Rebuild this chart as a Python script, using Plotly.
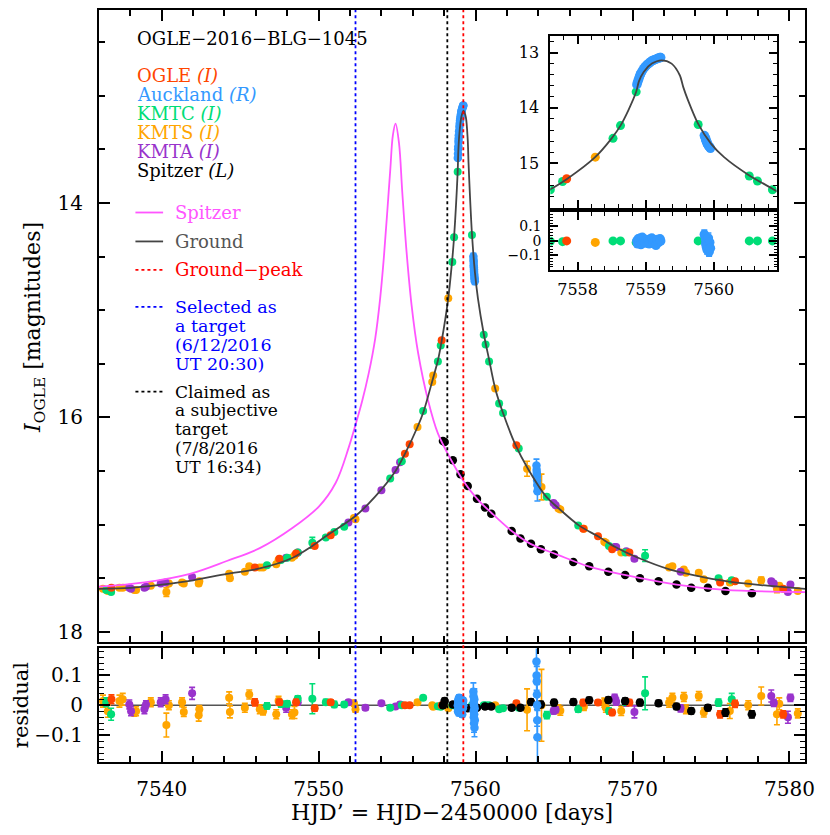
import plotly.graph_objects as go

# page is drawn with an 8px body margin, so the figure is 8px smaller and
# reference pixel positions are shifted by 8px.
OFF = 8
W, H = 830 - OFF, 835 - OFF
def fx(p): return min(1.0, max(0.0, (p - OFF) / W))
def fy(p): return min(1.0, max(0.0, 1 - (p - OFF) / H))

FONT = "DejaVu Serif"

# ---------------- model curves ----------------
ground_t = [7536, 7538, 7540, 7542, 7544.15, 7546.25, 7548.35, 7549.6, 7550.45, 7552.35,
            7553.6, 7554.9, 7555.5, 7556.3, 7556.7, 7557.3, 7557.6, 7557.85, 7558.25,
            7558.5, 7558.63, 7558.75, 7558.86, 7558.9, 7558.97, 7559.09, 7559.23,
            7559.38, 7559.5, 7559.55, 7559.62, 7559.77, 7559.96, 7560.15, 7560.52,
            7560.86, 7561.25, 7561.75, 7562.55, 7563.3, 7564.5, 7565.3, 7566.6,
            7567.8, 7568.9, 7570.2, 7572.4, 7574.5, 7576.5, 7578.6, 7581]
ground_mag = [17.60, 17.59, 17.56, 17.52, 17.46, 17.41, 17.31, 17.20, 17.11, 16.92,
              16.74, 16.50, 16.34, 16.09, 15.94, 15.63, 15.47, 15.28, 14.90,
              14.55, 14.32, 14.03, 13.71, 13.52, 13.35, 13.20, 13.14,
              13.20, 13.41, 13.62, 13.86, 14.29, 14.65, 14.89, 15.22,
              15.46, 15.73, 15.96, 16.26, 16.47, 16.74, 16.85, 17.01,
              17.11, 17.21, 17.30, 17.42, 17.49, 17.54, 17.57, 17.60]

spitzer_t = [7536, 7538.9, 7541.8, 7544.15, 7546.25, 7548.35, 7550.03, 7551.09, 7551.92,
             7552.35, 7552.77, 7553.19, 7553.61, 7553.92, 7554.15, 7554.36, 7554.57, 7554.73,
             7554.9, 7555.12, 7555.33, 7555.6, 7555.92, 7556.34, 7556.97, 7557.6,
             7558.45, 7559.3, 7560.1, 7561.0, 7562.3, 7563.5, 7565.2, 7567.2, 7569.5,
             7572.8, 7575.9, 7581]
spitzer_mag = [17.58, 17.54, 17.46, 17.34, 17.22, 17.03, 16.83, 16.61, 16.28,
               16.07, 15.85, 15.59, 15.26, 14.89, 14.52, 14.11, 13.68, 13.37,
               13.26, 13.44, 13.90, 14.45, 14.95, 15.40, 15.84, 16.15,
               16.40, 16.61, 16.76, 16.89, 17.06, 17.18, 17.28, 17.39, 17.47,
               17.56, 17.61, 17.63]

# ---------------- data sets ----------------
ogle_t = [7536.8, 7545.94, 7547.5, 7548.56, 7549.75, 7550.77, 7555.5, 7555.8, 7557.84,
          7562.6, 7566.86, 7567.8, 7568.7, 7569.8, 7575.58, 7576.53, 7579.6]
ogle_mag = [17.59, 17.40, 17.32, 17.27, 17.20, 17.10, 16.34, 16.25, 15.28,
            16.26, 17.04, 17.11, 17.23, 17.26, 17.54, 17.53, 17.60]
ogle_res = [0.02, 0.01, 0.01, 0.01, -0.01, 0.01, 0.0, 0.0, 0.0,
            0.007, 0.009, 0.009, -0.024, 0.009, -0.03, 0.005, -0.03]
ogle_err = [0.015, 0.012, 0.01, 0.01, 0.01, 0.008, 0.006, 0.006, 0.005,
            0.006, 0.01, 0.008, 0.01, 0.01, 0.012, 0.012, 0.012]

auck_t = [7558.87, 7558.88, 7558.89, 7558.90, 7558.91, 7558.92, 7558.93, 7558.95, 7558.97,
          7558.99, 7559.01, 7559.03, 7559.05, 7559.07, 7559.09, 7559.11, 7559.13, 7559.15,
          7559.17, 7559.19, 7559.21, 7559.22,
          7559.86, 7559.87, 7559.88, 7559.88, 7559.89, 7559.90, 7559.90, 7559.91, 7559.92,
          7559.93, 7559.94, 7559.95,
          7563.88, 7563.89, 7563.90, 7563.91, 7563.92, 7563.93, 7563.94]
auck_mag = [13.58, 13.54, 13.50, 13.47, 13.43, 13.40, 13.37, 13.33, 13.29,
            13.26, 13.23, 13.21, 13.19, 13.17, 13.15, 13.14, 13.13, 13.12,
            13.11, 13.10, 13.09, 13.09,
            14.50, 14.53, 14.55, 14.58, 14.60, 14.62, 14.64, 14.66, 14.68,
            14.70, 14.71, 14.73,
            16.45, 16.49, 16.52, 16.55, 16.59, 16.63, 16.69]
auck_res = [0.0, -0.02, 0.015, 0.005, -0.01, 0.02, -0.025, 0.025, 0.0,
            -0.015, 0.01, 0.005, -0.02, 0.015, 0.02, -0.01, 0.005, -0.03,
            0.01, -0.01, 0.015, 0.0,
            0.045, 0.03, -0.02, 0.01, -0.04, 0.0, -0.06, -0.03, 0.02,
            -0.075, -0.01, -0.05,
            0.146, 0.10, 0.08, 0.036, 0.0, -0.05, -0.107]
auck_err = [0.01, 0.01, 0.01, 0.01, 0.01, 0.01, 0.01, 0.01, 0.01,
            0.01, 0.01, 0.01, 0.01, 0.01, 0.01, 0.01, 0.01, 0.01,
            0.01, 0.01, 0.01, 0.01,
            0.03, 0.025, 0.03, 0.02, 0.035, 0.025, 0.03, 0.03, 0.035,
            0.03, 0.025, 0.03,
            0.06, 0.05, 0.05, 0.05, 0.07, 0.06, 0.09]

kmtc_t = [7536.47, 7536.78, 7546.71, 7547.6, 7548.0, 7548.67, 7549.6, 7550.46, 7551.0,
          7551.63, 7554.56, 7555.3, 7556.66, 7557.6, 7557.78, 7558.52, 7558.63, 7558.86,
          7559.77, 7560.52, 7560.64, 7560.86, 7561.5, 7561.75, 7562.75, 7564.54,
          7566.54, 7568.5, 7569.55, 7570.8, 7575.48, 7576.32]
kmtc_mag = [17.61, 17.63, 17.38, 17.33, 17.31, 17.26, 17.17, 17.12, 17.07,
            17.02, 16.57, 16.41, 15.94, 15.48, 15.33, 14.55, 14.32, 13.71,
            14.30, 15.23, 15.32, 15.48, 15.87, 15.96, 16.29, 16.74,
            17.01, 17.20, 17.26, 17.29, 17.50, 17.52]
kmtc_res = [0.01, -0.03, -0.002, 0.004, 0.005, 0.022, 0.022, 0.01, 0.003,
            0.003, -0.008, 0.0, 0.025, -0.003, -0.005, 0.0, 0.0, -0.01,
            0.0, 0.0, 0.0, 0.0, -0.013, -0.01, -0.008, -0.033,
            -0.013, -0.019, 0.01, 0.04, 0.009, 0.02]
kmtc_err = [0.015, 0.02, 0.01, 0.01, 0.01, 0.01, 0.05, 0.01, 0.01,
            0.008, 0.006, 0.006, 0.006, 0.005, 0.005, 0.004, 0.004, 0.004,
            0.004, 0.005, 0.005, 0.005, 0.006, 0.006, 0.006, 0.012,
            0.01, 0.01, 0.01, 0.055, 0.012, 0.02]

kmts_t = [7536.26, 7536.57, 7537.31, 7537.52, 7538.26, 7538.37, 7539.31, 7540.3, 7540.46,
          7541.3, 7541.41, 7542.36, 7542.4, 7544.3, 7544.35, 7545.3, 7545.58, 7546.25,
          7546.46, 7547.3, 7547.45, 7548.3, 7548.46, 7552.25, 7552.35, 7556.3, 7557.24,
          7557.3, 7558.26, 7561.25, 7563.28, 7564.2, 7565.28, 7565.4, 7566.9, 7568.2,
          7568.3, 7569.28, 7572.33, 7572.54, 7573.27, 7573.4, 7574.22, 7574.54, 7576.2,
          7577.37, 7578.2, 7579.2, 7579.35, 7580.53]
kmts_mag = [17.60, 17.62, 17.59, 17.59, 17.61, 17.61, 17.57, 17.63, 17.55,
            17.54, 17.55, 17.55, 17.53, 17.46, 17.50, 17.44, 17.39, 17.40,
            17.40, 17.37, 17.33, 17.31, 17.29, 16.94, 16.95, 16.09, 15.67,
            15.61, 14.89, 15.73, 16.48, 16.65, 16.85, 16.86, 17.04, 17.16,
            17.17, 17.26, 17.40, 17.39, 17.42, 17.45, 17.45, 17.51, 17.54,
            17.55, 17.52, 17.60, 17.57, 17.62]
kmts_res = [0.014, -0.02, 0.014, 0.02, -0.024, -0.02, 0.01, -0.066, 0.0,
            0.01, -0.022, -0.033, -0.013, 0.025, -0.022, -0.008, 0.036, -0.013,
            -0.02, -0.03, 0.015, -0.03, -0.024, 0.007, -0.013, 0.01, 0.0,
            -0.005, -0.01, 0.0, -0.015, 0.0, -0.013, -0.018, -0.005, 0.009,
            -0.008, -0.019, 0.009, 0.025, 0.028, -0.013, 0.031, -0.024, -0.019,
            0.0, 0.031, -0.03, 0.005, -0.027]
kmts_err = [0.02, 0.02, 0.02, 0.02, 0.012, 0.015, 0.015, 0.04, 0.015,
            0.015, 0.015, 0.02, 0.012, 0.02, 0.02, 0.015, 0.015, 0.015,
            0.012, 0.015, 0.015, 0.015, 0.02, 0.01, 0.01, 0.008, 0.006,
            0.006, 0.006, 0.006, 0.07, 0.12, 0.015, 0.015, 0.012, 0.015,
            0.015, 0.015, 0.015, 0.015, 0.015, 0.015, 0.015, 0.015, 0.025,
            0.015, 0.03, 0.035, 0.02, 0.015]

kmta_t = [7537.94, 7538.05, 7538.9, 7539.0, 7539.94, 7540.25, 7541.94, 7547.93, 7548.67,
          7551.9, 7552.98, 7554.0, 7554.9, 7555.19, 7564.97, 7565.1, 7568.86, 7568.96,
          7569.6, 7570.12, 7573.06, 7578.84, 7579.0, 7579.9, 7580.06]
kmta_mag = [17.59, 17.60, 17.59, 17.58, 17.55, 17.54, 17.49, 17.31, 17.26,
            16.98, 16.85, 16.68, 16.49, 16.42, 16.80, 16.82, 17.21, 17.21,
            17.25, 17.32, 17.44, 17.53, 17.55, 17.63, 17.56]
kmta_res = [0.003, -0.02, -0.013, 0.003, 0.01, 0.02, 0.04, -0.008, 0.01,
            0.01, -0.008, 0.007, -0.004, 0.003, -0.019, -0.015, 0.025, 0.012,
            0.009, -0.022, -0.01, 0.031, 0.008, -0.04, 0.025]
kmta_err = [0.015, 0.015, 0.015, 0.012, 0.015, 0.015, 0.02, 0.015, 0.01,
            0.008, 0.008, 0.006, 0.006, 0.006, 0.01, 0.01, 0.012, 0.012,
            0.012, 0.02, 0.012, 0.02, 0.012, 0.02, 0.012]

spz_t = [7557.92, 7558.03, 7558.55, 7559.04, 7559.5, 7560.09, 7560.6, 7561.0, 7562.3,
         7562.86, 7563.53, 7564.16, 7565.0, 7566.23, 7567.24, 7568.46, 7569.53, 7570.47,
         7571.66, 7572.8, 7573.74, 7574.8, 7575.92, 7577.6]
spz_mag = [16.22, 16.23, 16.40, 16.53, 16.64, 16.76, 16.84, 16.90, 17.06,
           17.13, 17.18, 17.23, 17.28, 17.35, 17.39, 17.44, 17.47, 17.50,
           17.53, 17.56, 17.59, 17.59, 17.62, 17.64]
spz_res = [0.0, 0.014, 0.003, -0.005, -0.01, -0.008, -0.004, -0.004, -0.008,
           -0.008, 0.011, 0.003, 0.009, 0.011, 0.017, 0.018, 0.014, 0.009,
           0.007, -0.004, -0.019, -0.008, -0.024, -0.03]
spz_err = [0.008, 0.01, 0.008, 0.008, 0.008, 0.008, 0.008, 0.008, 0.008,
           0.008, 0.01, 0.01, 0.01, 0.01, 0.01, 0.01, 0.01, 0.01,
           0.01, 0.01, 0.01, 0.01, 0.012, 0.012]

# event times (vertical dotted lines)
selected_t = 7552.35
claimed_t = 7558.2
peak_t = 7559.22

C_OGLE = "#FF4500"
C_AUCK = "#3399FF"
C_KMTC = "#00DD77"
C_KMTS = "#FFA500"
C_KMTA = "#9933CC"
C_SPZ = "#000000"
C_SPZ_MODEL = "#FF55FF"
C_GROUND = "#444444"

datasets = [
    (kmts_t, kmts_mag, kmts_res, kmts_err, C_KMTS, True, 8),
    (kmta_t, kmta_mag, kmta_res, kmta_err, C_KMTA, True, 8),
    (kmtc_t, kmtc_mag, kmtc_res, kmtc_err, C_KMTC, True, 8),
    (ogle_t, ogle_mag, ogle_res, ogle_err, C_OGLE, True, 8),
    (spz_t, spz_mag, spz_res, spz_err, C_SPZ, False, 8.5),
    (auck_t, auck_mag, auck_res, auck_err, C_AUCK, True, 8.5),
]

fig = go.Figure()

def add_pts(t, m, e, color, xa, ya, size):
    fig.add_trace(go.Scatter(
        x=t, y=m, mode="markers", xaxis=xa, yaxis=ya, showlegend=False,
        marker=dict(color=color, size=size, line=dict(width=0)),
        error_y=dict(type="data", array=e, color=color, thickness=1.6, width=3),
        hoverinfo="skip"))

for t, m, r, e, c, in_inset, sz in datasets:
    add_pts(t, m, e, c, "x", "y", sz)
    add_pts(t, r, e, c, "x2", "y2", sz)
    if in_inset:
        add_pts(t, m, e, c, "x3", "y3", sz + 1)
        add_pts(t, r, e, c, "x4", "y4", sz + 1)

# model curves
fig.add_trace(go.Scatter(x=spitzer_t, y=spitzer_mag, mode="lines", xaxis="x", yaxis="y",
                         line=dict(color=C_SPZ_MODEL, width=1.8, shape="spline", smoothing=1.0),
                         showlegend=False, hoverinfo="skip"))
fig.add_trace(go.Scatter(x=ground_t, y=ground_mag, mode="lines", xaxis="x", yaxis="y",
                         line=dict(color=C_GROUND, width=1.8, shape="spline", smoothing=0.8),
                         showlegend=False, hoverinfo="skip"))
fig.add_trace(go.Scatter(x=ground_t, y=ground_mag, mode="lines", xaxis="x3", yaxis="y3",
                         line=dict(color=C_GROUND, width=1.8, shape="spline", smoothing=0.8),
                         showlegend=False, hoverinfo="skip"))

# ---------------- axes ----------------
main_dom_x = [fx(100), fx(815)]
inset_dom_x = [fx(557), fx(786)]

def ax_common(**kw):
    d = dict(showgrid=False, zeroline=False, showline=True, linecolor="black",
             linewidth=2, mirror="allticks", ticks="inside", tickcolor="black",
             tickwidth=1.5, tickfont=dict(family=FONT, size=19, color="black"))
    d.update(kw)
    return d

fig.update_layout(
    width=W, height=H, margin=dict(l=0, r=0, t=0, b=0),
    paper_bgcolor="white", plot_bgcolor="white", showlegend=False,
    xaxis=ax_common(domain=main_dom_x, range=[7536, 7581], anchor="y",
                    tick0=7540, dtick=10, ticklen=11, showticklabels=False,
                    minor=dict(dtick=2, tick0=7540, ticklen=6, ticks="inside", tickcolor="black", tickwidth=1.5)),
    yaxis=ax_common(domain=[fy(643), fy(9)], range=[18.1, 12.2], anchor="x",
                    tickvals=[14, 16, 18], ticklen=11, ticklabelstandoff=10,
                    tickfont=dict(family=FONT, size=20, color="black"),
                    minor=dict(dtick=0.5, tick0=12, ticklen=6, ticks="inside", tickcolor="black", tickwidth=1.5)),
    xaxis2=ax_common(domain=main_dom_x, range=[7536, 7581], anchor="y2",
                     tick0=7540, dtick=10, ticklen=11, ticklabelstandoff=8,
                     tickfont=dict(family=FONT, size=20, color="black"),
                     minor=dict(dtick=2, tick0=7540, ticklen=6, ticks="inside", tickcolor="black", tickwidth=1.5)),
    yaxis2=ax_common(domain=[fy(763), fy(649)], range=[-0.19, 0.19], anchor="x2",
                     tickvals=[-0.1, 0, 0.1], ticktext=["\u22120.1", "0", "0.1"],
                     ticklen=11, ticklabelstandoff=10,
                     tickfont=dict(family=FONT, size=20, color="black"),
                     minor=dict(dtick=0.02, tick0=0, ticklen=5, ticks="inside", tickcolor="black", tickwidth=1.2)),
    xaxis3=ax_common(domain=inset_dom_x, range=[7557.6, 7560.92], anchor="y3",
                     dtick=1, tick0=7558, ticklen=8, showticklabels=False,
                     minor=dict(dtick=0.2, tick0=7558, ticklen=4, ticks="inside", tickcolor="black", tickwidth=1.2)),
    yaxis3=ax_common(domain=[fy(207), fy(35)], range=[15.8, 12.7], anchor="x3",
                     tickvals=[13, 14, 15], ticklen=8, ticklabelstandoff=6,
                     tickfont=dict(family=FONT, size=16, color="black"),
                     minor=dict(dtick=0.2, tick0=13, ticklen=4, ticks="inside", tickcolor="black", tickwidth=1.2)),
    xaxis4=ax_common(domain=inset_dom_x, range=[7557.6, 7560.92], anchor="y4",
                     dtick=1, tick0=7558, ticklen=8, ticklabelstandoff=4,
                     tickfont=dict(family=FONT, size=16, color="black"),
                     minor=dict(dtick=0.2, tick0=7558, ticklen=4, ticks="inside", tickcolor="black", tickwidth=1.2)),
    yaxis4=ax_common(domain=[fy(269.5), fy(211.5)], range=[-0.2, 0.2], anchor="x4",
                     tickvals=[-0.1, 0, 0.1], ticktext=["\u22120.1", "0", "0.1"],
                     ticklen=8, ticklabelstandoff=4,
                     tickfont=dict(family=FONT, size=14, color="black"),
                     minor=dict(dtick=0.02, tick0=0, ticklen=3, ticks="inside", tickcolor="black", tickwidth=1)),
)

shapes = []
# zero lines of residual panels
for xr, yr in (("x2 domain", "y2"), ("x4 domain", "y4")):
    shapes.append(dict(type="line", xref=xr, yref=yr, x0=0, x1=1, y0=0, y1=0,
                       line=dict(color="#555555", width=1.6), layer="below"))
# event lines through both panels
for t, c in ((selected_t, "#0000FF"), (claimed_t, "#000000"), (peak_t, "#FF0000")):
    shapes.append(dict(type="line", xref="x", yref="paper", x0=t, x1=t,
                       y0=fy(763), y1=fy(9), line=dict(color=c, width=1.8, dash="dot")))
# legend line samples
for ypx, c, dash in ((212, C_SPZ_MODEL, "solid"), (241, C_GROUND, "solid"),
                     (269.5, "#FF0000", "dot"), (306.5, "#0000FF", "dot"),
                     (391.5, "#000000", "dot")):
    shapes.append(dict(type="line", xref="paper", yref="paper", x0=fx(137), x1=fx(165),
                       y0=fy(ypx), y1=fy(ypx), line=dict(color=c, width=1.8, dash=dash)))
fig.update_layout(shapes=shapes)

ann = []
def txt(xpx, ypx, s, color="black", size=18, **kw):
    d = dict(x=fx(xpx), y=fy(ypx), xref="paper", yref="paper", text=s, showarrow=False,
             xanchor="left", yanchor="middle", font=dict(family=FONT, size=size, color=color))
    d.update(kw)
    ann.append(d)

txt(137, 38, "OGLE\u22122016\u2212BLG\u22121045")
txt(137, 75, "OGLE <i>(I)</i>", C_OGLE)
txt(137, 94, "Auckland <i>(R)</i>", C_AUCK)
txt(137, 113, "KMTC <i>(I)</i>", C_KMTC)
txt(137, 132, "KMTS <i>(I)</i>", C_KMTS)
txt(137, 151, "KMTA <i>(I)</i>", C_KMTA)
txt(137, 170, "Spitzer <i>(L)</i>", "black")
txt(175, 212, "Spitzer", C_SPZ_MODEL)
txt(175, 241, "Ground", "#555555")
txt(175, 269.5, "Ground\u2212peak", "#FF0000")
for i, s in enumerate(["Selected as", "a target", "(6/12/2016", "UT 20:30)"]):
    txt(175, 306.5 + i * 19, s, "#0000FF", size=17.5)
for i, s in enumerate(["Claimed as", "a subjective", "target", "(7/8/2016", "UT 16:34)"]):
    txt(175, 391.5 + i * 18.8, s, "black", size=17)

# axis titles
txt(35, 327, "<i>I</i><sub>OGLE</sub> [magnitudes]", size=22, textangle=-90, xanchor="center")
txt(21, 706, "residual", size=21, textangle=-90, xanchor="center")
txt(457, 813, "HJD\u2019 = HJD\u22122450000 [days]", size=22, xanchor="center")
fig.update_layout(annotations=ann)

fig.write_html("out.html")
